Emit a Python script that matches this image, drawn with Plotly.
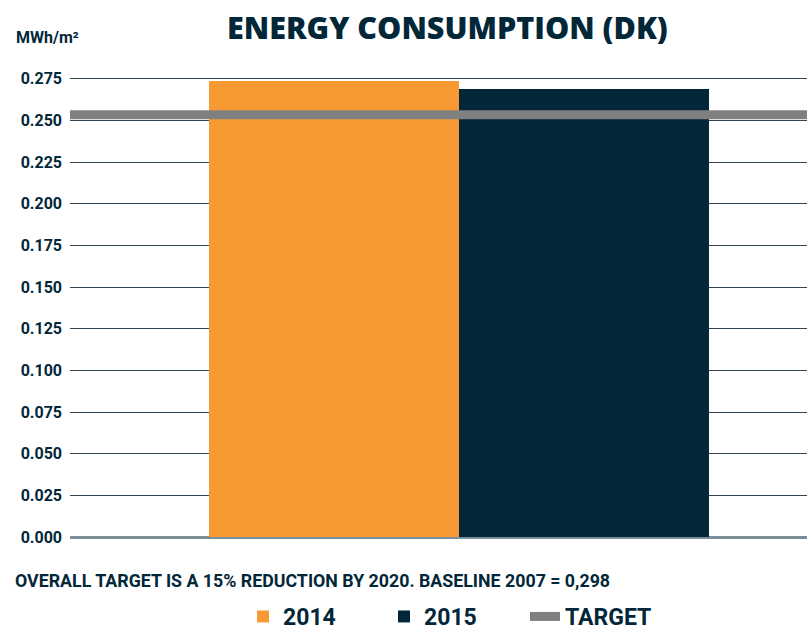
import plotly.graph_objects as go

# Energy consumption per square metre, Denmark
years = ["2014", "2015"]
consumption = [0.2738, 0.2690]
target = 0.2533  # 15% below the 2007 baseline of 0.298
y_ticks = [0.000, 0.025, 0.050, 0.075, 0.100, 0.125, 0.150, 0.175, 0.200, 0.225, 0.250, 0.275]

bar_colors = ["#F79A33", "#022739"]
navy = "#022739"
heavy = "Roboto"

W, H = 807, 634
ML, MR, MT, MB = 70, 0, 77, 97
pw, ph = W - ML - MR, H - MT - MB

def px_x(x):
    return (x - ML) / pw

def px_y(y):
    return (H - MB - y) / ph

fig = go.Figure()
for i, (yr, val) in enumerate(zip(years, consumption)):
    fig.add_trace(go.Bar(
        x=[i], y=[val], width=1, name=yr,
        marker=dict(color=bar_colors[i], line=dict(width=0)),
    ))

fig.add_trace(go.Scatter(
    x=[-1.06, 1.9], y=[target, target], mode="lines", name="TARGET",
    line=dict(color="#808080", width=9),
))

fig.update_layout(
    width=W, height=H,
    margin=dict(l=ML, r=MR, t=MT, b=MB, autoexpand=False),
    paper_bgcolor="white", plot_bgcolor="white",
    bargap=0,
    showlegend=True,
    legend=dict(
        orientation="h", x=px_x(243), y=px_y(595), xanchor="left", yanchor="top",
        font=dict(family=heavy, size=23, color=navy, weight="bold"),
        itemwidth=30, tracegroupgap=0, entrywidth=96,
    ),
    font=dict(family=heavy, color=navy),
)

fig.update_xaxes(range=[-1.056, 1.892], showticklabels=False, showgrid=False,
                 zeroline=False, showline=False, fixedrange=True)
fig.update_yaxes(
    range=[0, 0.276], tickvals=y_ticks, tickformat=".3f",
    showgrid=True, gridcolor="#2f4654", gridwidth=1.3,
    zeroline=True, zerolinecolor="#7d8e98", zerolinewidth=2.5,
    showline=False, ticks="", ticklabelstandoff=7,
    tickfont=dict(family=heavy, size=16, color=navy, weight="bold"),
)

fig.add_annotation(
    text="ENERGY CONSUMPTION (DK)", xref="paper", yref="paper",
    x=px_x(447), y=px_y(27), xanchor="center", yanchor="middle", showarrow=False,
    font=dict(family="Open Sans", size=30.5, color=navy, weight=800),
)
fig.add_annotation(
    text="MWh/m²", xref="paper", yref="paper",
    x=px_x(14), y=px_y(38), xanchor="left", yanchor="middle", showarrow=False,
    font=dict(family=heavy, size=16, color=navy, weight="bold"),
)
fig.add_annotation(
    text="OVERALL TARGET IS A 15% REDUCTION BY 2020. BASELINE 2007 = 0,298",
    xref="paper", yref="paper",
    x=px_x(13), y=px_y(580), xanchor="left", yanchor="middle", showarrow=False,
    font=dict(family=heavy, size=17.8, color=navy, weight="bold"),
)

fig.write_html("out.html")
